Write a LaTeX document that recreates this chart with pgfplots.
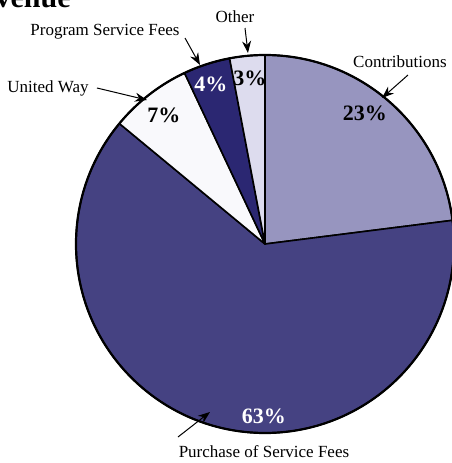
\documentclass[border=0pt]{standalone}
\usepackage{pgfplots}
\pgfplotsset{compat=1.18}
\usepackage{pgfplotstable}
\usepackage{fontspec}
\setmainfont{Liberation Serif}
\usetikzlibrary{arrows.meta}
\definecolor{c0}{HTML}{9795BF}
\definecolor{c1}{HTML}{454282}
\definecolor{c2}{HTML}{F9F9FC}
\definecolor{c3}{HTML}{2B2772}
\definecolor{c4}{HTML}{DDDCEE}
\pgfplotstableread{
value
23
63
7
4
3
}\revenue
\def\cum{90}
\pgfplotsforeachungrouped \i in {0,...,4}{%
  \pgfplotstablegetelem{\i}{value}\of\revenue
  \pgfmathsetmacro\endang{\cum-3.6*\pgfplotsretval}%
  \expandafter\xdef\csname s\i\endcsname{\cum}%
  \expandafter\xdef\csname e\i\endcsname{\endang}%
  \xdef\cum{\endang}%
}
\begin{document}
\begin{tikzpicture}
\begin{axis}[x=0.5pt, y=0.5pt, xmin=0, xmax=452, ymin=0, ymax=463,
  hide axis, clip=false, at={(0,0)}, anchor=south west]
\pgfplotsinvokeforeach{0,...,4}{%
  \edef\temp{\noexpand\filldraw[fill=c#1, draw=black, line width=0.8pt, line join=round]
    (axis cs:265,219) -- ++(\csname s#1\endcsname:94.5pt)
    arc[start angle=\csname s#1\endcsname, end angle=\csname e#1\endcsname, radius=94.5pt] -- cycle;}%
  \temp
}
\draw[line width=1.1pt] (axis cs:265,219) circle[radius=94.5pt];
% percent labels
\begin{scope}[font=\fontsize{11}{13}\selectfont\bfseries, inner sep=0pt]
\node at (axis cs:365,350) {23\%};
\node at (axis cs:164,348) {7\%};
\node[white] at (axis cs:211,379) {4\%};
\node at (axis cs:250,385) {3\%};
\node[white] at (axis cs:264,47) {63\%};
\end{scope}
% category labels
\begin{scope}[font=\fontsize{8.5}{10}\selectfont]
\node at (axis cs:235,446) {Other};
\node at (axis cs:105,431) {Program Service Fees};
\node at (axis cs:48,375) {United Way};
\node at (axis cs:400,401) {Contributions};
\node at (axis cs:264,11) {Purchase of Service Fees};
\end{scope}
\begin{scope}[line width=0.5pt, -{Stealth[length=6pt,width=4.5pt]}]
\draw (axis cs:245,435) -- (axis cs:248,410);
\draw (axis cs:185,425) -- (axis cs:200,398);
\draw (axis cs:97,375) -- (axis cs:147,363);
\draw (axis cs:408,388) -- (axis cs:382,365);
\draw (axis cs:178,26) -- (axis cs:210,51);
\end{scope}
\node[anchor=base east, inner sep=0pt, font=\fontsize{15}{18}\selectfont\bfseries] at (axis cs:71,456) {Revenue};
\end{axis}
\pgfresetboundingbox
\path[use as bounding box] (0,0) rectangle (226pt,231.5pt);
\end{tikzpicture}
\end{document}
